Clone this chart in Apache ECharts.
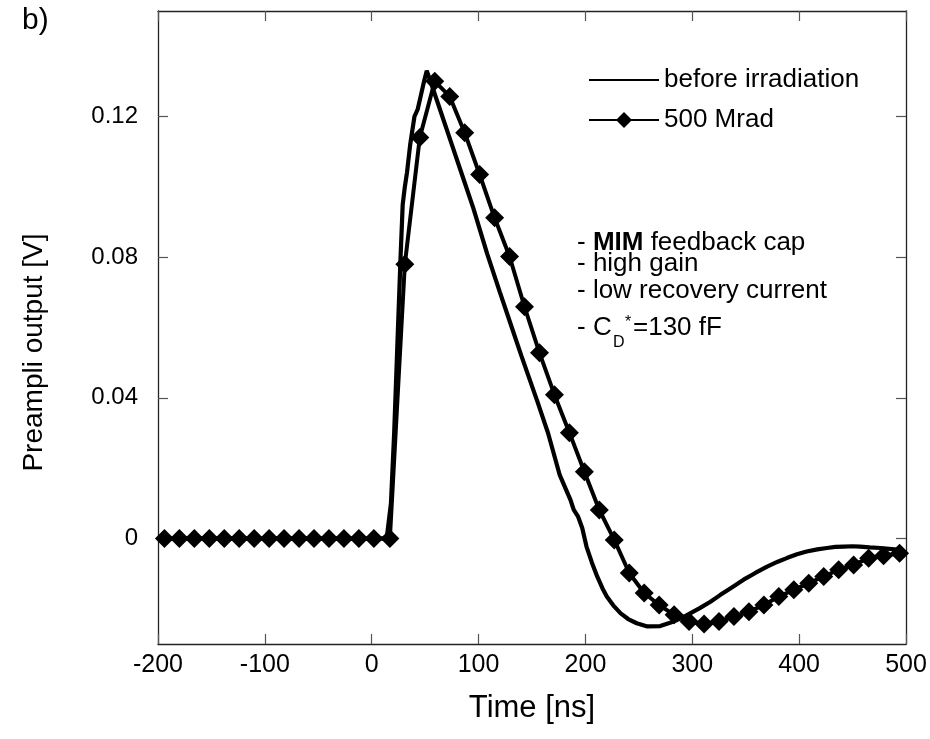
<!DOCTYPE html>
<html>
<head>
<meta charset="utf-8">
<script src="https://cdn.jsdelivr.net/npm/echarts@6/dist/echarts.min.js"></script>
<style>
html,body{margin:0;padding:0;background:#fff;}
#chart{width:930px;height:739px;}
</style>
</head>
<body>
<div id="chart"></div>
<script>
// ---- data ----
const seriesNames = ['before irradiation', '500 Mrad'];

const beforeTime = [-200, 14, 18, 21, 24, 27, 29, 31, 33, 36, 40, 43, 46, 49, 51.5, 55, 65, 75, 85, 95, 108, 120, 130, 140, 155, 165, 176, 186, 189, 193, 197, 201, 206, 211, 216, 220, 226, 233, 240, 248, 258, 270, 282, 295, 307, 317, 326, 337, 348, 359, 370, 380, 389, 398, 407, 417, 426, 434, 442, 450, 457, 466, 476, 487, 498];
const beforeVolt = [0, 0, 0.010, 0.030, 0.055, 0.080, 0.095, 0.100, 0.104, 0.112, 0.120, 0.122, 0.126, 0.130, 0.133, 0.130, 0.121, 0.112, 0.103, 0.094, 0.081, 0.070, 0.061, 0.052, 0.039, 0.030, 0.018, 0.011, 0.0082, 0.0063, 0.003, -0.0023, -0.0068, -0.0108, -0.0142, -0.0165, -0.019, -0.0213, -0.0229, -0.0241, -0.0250, -0.0249, -0.0237, -0.0218, -0.0198, -0.0180, -0.0161, -0.0139, -0.0117, -0.0098, -0.0080, -0.0066, -0.0055, -0.0045, -0.0037, -0.0031, -0.0027, -0.0024, -0.0023, -0.0022, -0.0023, -0.0025, -0.0027, -0.0030, -0.0034];

const mradTime = [-194, -180, -166, -152, -138, -124, -110, -96, -82, -68, -54, -40, -26, -12, 2, 17, 31, 45, 59, 73, 87, 101, 115, 129, 143, 157, 171, 185, 199, 213, 227, 241, 255, 269, 283, 297, 311, 325, 339, 353, 367, 381, 395, 409, 423, 437, 451, 465, 479, 494];
const mradVolt = [0, 0, 0, 0, 0, 0, 0, 0, 0, 0, 0, 0, 0, 0, 0, 0, 0.078, 0.114, 0.130, 0.1257, 0.1154, 0.1035, 0.0912, 0.0802, 0.0659, 0.0528, 0.0409, 0.0301, 0.019, 0.0081, -0.0004, -0.0098, -0.0155, -0.0189, -0.0217, -0.0236, -0.0243, -0.0236, -0.0222, -0.0208, -0.0189, -0.0165, -0.0146, -0.0127, -0.0108, -0.0089, -0.0075, -0.0056, -0.0049, -0.0042];

const yTickValues = [0, 0.04, 0.08, 0.12];
const panelLabel = 'b)';
const noteLines = ['- {b|MIM} feedback cap', '- high gain', '- low recovery current'];
const capNote = ['- C', 'D', '*', '=130 fF'];

// ---- chart ----
const FONT = '"Liberation Sans", Arial, Helvetica, sans-serif';
const axisLineStyle = {color: '#222', width: 1.3};
const tickStyle = {color: '#555', width: 1.2};

const pairs = (xs, ys) => xs.map((x, i) => [x, ys[i]]);

const chart = echarts.init(document.getElementById('chart'), null, {renderer: 'canvas'});
chart.setOption({
  animation: false,
  backgroundColor: '#fff',
  textStyle: {fontFamily: FONT, color: '#000'},
  grid: {left: 158, right: 24, top: 11, bottom: 95, containLabel: false, outerBoundsMode: 'none'},
  xAxis: [
    {
      type: 'value', position: 'bottom', min: -200, max: 500, interval: 100,
      axisLine: {show: true, onZero: false, lineStyle: axisLineStyle},
      axisTick: {show: true, inside: true, length: 10, lineStyle: tickStyle},
      axisLabel: {fontSize: 25, color: '#000', margin: 9, fontFamily: FONT, showMinLabel: true, showMaxLabel: true},
      splitLine: {show: false},
      name: 'Time [ns]', nameLocation: 'middle', nameGap: 49,
      nameTextStyle: {fontSize: 31, color: '#000', fontFamily: FONT}
    },
    {
      type: 'value', position: 'top', min: -200, max: 500, interval: 100,
      axisLine: {show: true, onZero: false, lineStyle: axisLineStyle},
      axisTick: {show: true, inside: true, length: 10, lineStyle: tickStyle},
      axisLabel: {show: false},
      splitLine: {show: false}
    }
  ],
  yAxis: [
    {
      type: 'value', position: 'left', min: -0.03, max: 0.15,
      axisLine: {show: true, onZero: false, lineStyle: axisLineStyle},
      axisTick: {show: true, inside: true, length: 10, lineStyle: tickStyle, customValues: yTickValues},
      axisLabel: {fontSize: 24, color: '#000', margin: 20, fontFamily: FONT, customValues: yTickValues},
      splitLine: {show: false},
      name: 'Preampli output [V]', nameLocation: 'middle', nameGap: 110,
      nameTextStyle: {fontSize: 28, color: '#000', fontFamily: FONT, padding: [0, 50, 0, 0]}
    },
    {
      type: 'value', position: 'right', min: -0.03, max: 0.15,
      axisLine: {show: true, onZero: false, lineStyle: axisLineStyle},
      axisTick: {show: true, inside: true, length: 10, lineStyle: tickStyle, customValues: yTickValues},
      axisLabel: {show: false},
      splitLine: {show: false}
    }
  ],
  legend: {
    orient: 'vertical', left: 583, top: 62,
    itemWidth: 70, itemHeight: 20, itemGap: 14,
    textStyle: {fontSize: 26, color: '#000', fontFamily: FONT},
    data: [
      {name: seriesNames[0], itemStyle: {opacity: 0}},
      {name: seriesNames[1]}
    ]
  },
  series: [
    {
      name: seriesNames[0], type: 'line', xAxisIndex: 0, yAxisIndex: 0,
      data: pairs(beforeTime, beforeVolt),
      symbol: 'none', smooth: false,
      lineStyle: {color: '#000', width: 4.2},
      itemStyle: {color: '#000'},
      z: 2
    },
    {
      name: seriesNames[1], type: 'line', xAxisIndex: 0, yAxisIndex: 0,
      data: pairs(mradTime, mradVolt),
      symbol: 'diamond', symbolSize: 19, showAllSymbol: true,
      lineStyle: {color: '#000', width: 4},
      itemStyle: {color: '#000'},
      z: 3
    }
  ],
  graphic: [
    {type: 'text', left: 22, top: 6, style: {text: panelLabel, fontSize: 30, fontFamily: FONT, fill: '#000'}},
    {type: 'text', left: 577, top: 230, style: {text: noteLines[0], fontSize: 26, fontFamily: FONT, fill: '#000',
      rich: {b: {fontSize: 26, fontFamily: FONT, fontWeight: 'bold', fill: '#000'}}}},
    {type: 'text', left: 577, top: 251, style: {text: noteLines[1], fontSize: 26, fontFamily: FONT, fill: '#000'}},
    {type: 'text', left: 577, top: 278, style: {text: noteLines[2], fontSize: 26, fontFamily: FONT, fill: '#000'}},
    {type: 'text', left: 577, top: 315, style: {text: capNote[0], fontSize: 26, fontFamily: FONT, fill: '#000'}},
    {type: 'text', left: 613, top: 335, style: {text: capNote[1], fontSize: 16, fontFamily: FONT, fill: '#000'}},
    {type: 'text', left: 625, top: 315, style: {text: capNote[2], fontSize: 16, fontFamily: FONT, fill: '#000'}},
    {type: 'text', left: 633, top: 315, style: {text: capNote[3], fontSize: 26, fontFamily: FONT, fill: '#000'}}
  ]
});
</script>
</body>
</html>
